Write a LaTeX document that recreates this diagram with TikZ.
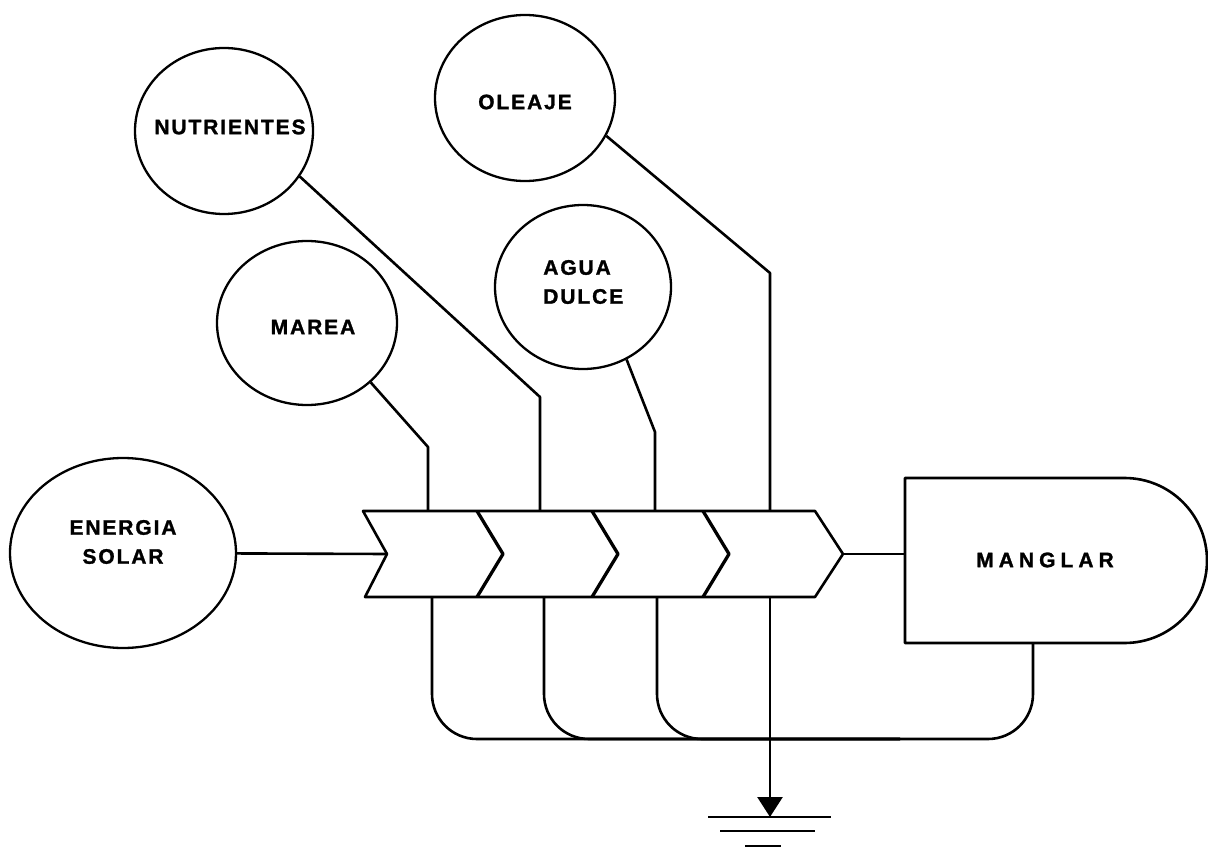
\documentclass[tikz,border=0pt]{standalone}
\usepackage{fontspec}
\setmainfont{Liberation Sans}
\newfontfamily\lblfont{Liberation Sans}[LetterSpace=9,FakeBold=1.3]
\newfontfamily\widefont{Liberation Sans}[LetterSpace=24,FakeBold=1.3]
\usetikzlibrary{shapes.geometric,shapes.misc,arrows.meta}
\begin{document}
\begin{tikzpicture}[x=1pt,y=-1pt,
  line width=2.6pt, line join=round,
  bubble/.style={ellipse, draw, line width=2.3pt, inner sep=0pt},
  lbl/.style={font=\lblfont\bfseries\fontsize{21}{29}\selectfont, inner sep=0pt},
  lblw/.style={font=\widefont\bfseries\fontsize{21}{29}\selectfont, inner sep=0pt},
  chev/.style={line width=3.3pt},
  ]
\useasboundingbox (0,0) rectangle (1208,848);
\fill[white] (0,0) rectangle (1208,848);

% source circles
\node[bubble, minimum width=226pt, minimum height=190pt] (solar) at (123,553) {};
\node[lbl, align=center] (solarT) at (123,542) {ENERGIA\\SOLAR};
\node[bubble, minimum width=180pt, minimum height=164pt] (marea) at (307,323) {};
\node[lbl] (mareaT) at (313,327) {MAREA};
\node[bubble, minimum width=178pt, minimum height=166pt] (nut) at (224,131) {};
\node[lbl] (nutT) at (230,127) {NUTRIENTES};
\node[bubble, minimum width=180pt, minimum height=166pt] (ole) at (525,98) {};
\node[lbl] (oleT) at (525,102) {OLEAJE};
\node[bubble, minimum width=176pt, minimum height=164pt] (agua) at (583,287) {};
\node[lbl, align=left, anchor=west] (aguaT) at (542,282) {AGUA\\DULCE};

% MANGLAR
\node[draw, rounded rectangle, rounded rectangle west arc=none,
      minimum width=302pt, minimum height=165pt, inner sep=0pt] (manglar) at (1056,560.5) {};
\node[lblw] (manglarT) at (1045,560) {MANGLAR};

% chevron band
\coordinate (notch) at (387,554);
\coordinate (tip) at (843,554);
\draw (363,511) -- (815,511) -- (tip) -- (815,597) -- (365,597) -- (notch) -- cycle;
\foreach \x in {477,592,703} \draw[chev] (\x,511) -- (\x+26,554) -- (\x,597);

% main flow
\draw (solar) -- (notch);
\draw (tip) -- (tip -| manglar.west);

% inputs from top
\coordinate (m1) at (428,447); \coordinate (m2) at (428,511);
\draw (marea.-43) -- (m1) -- (m2);
\coordinate (n1) at (540,397); \coordinate (n2) at (540,511);
\draw (nut.-31) -- (n1) -- (n2);
\coordinate (a1) at (655,432); \coordinate (a2) at (655,511);
\draw (agua.-59) -- (a1) -- (a2);
\coordinate (o1) at (770,273); \coordinate (o2) at (770,511);
\draw (ole.-25) -- (o1) -- (o2);

% feedback loops
\coordinate (b1) at (432,597); \coordinate (b2) at (544,597); \coordinate (b3) at (657,597);
\coordinate (mb) at (1033,643); \coordinate (bot) at (1033,739); \coordinate (botL) at (900,739);
\draw[rounded corners=45pt] (b1) |- (bot) -- (mb);
\draw[rounded corners=45pt] (b2) |- (botL);
\draw[rounded corners=45pt] (b3) |- (botL);

% heat sink
\coordinate (g0) at (770,597); \coordinate (gnd) at (770,817);
\draw[-{Triangle[width=25pt,length=20pt]}] (g0) -- (gnd);
\draw ([xshift=-62pt]gnd) -- ([xshift=61pt]gnd);
\draw ([xshift=-50pt,yshift=-14pt]gnd) -- ([xshift=45pt,yshift=-14pt]gnd);
\draw ([xshift=-25pt,yshift=-29pt]gnd) -- ([xshift=11pt,yshift=-29pt]gnd);
\end{tikzpicture}
\end{document}
